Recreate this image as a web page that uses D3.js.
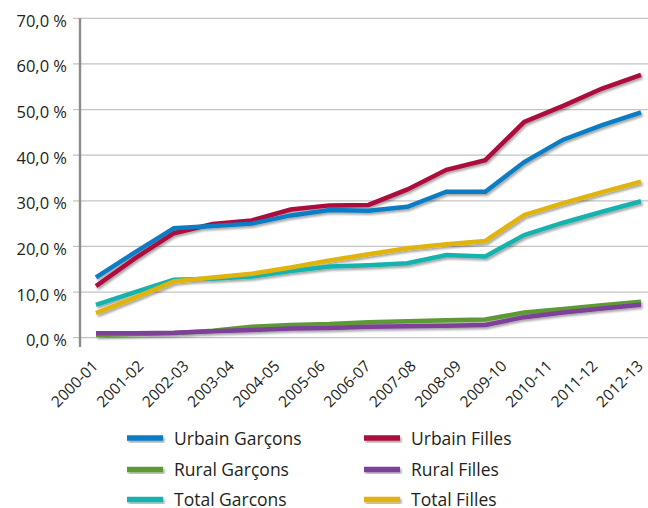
<!DOCTYPE html>
<html>
<head>
<meta charset="utf-8">
<script src="https://cdn.jsdelivr.net/npm/d3@7"></script>
<style>
  html, body { margin: 0; padding: 0; background: #fff; }
  svg { display: block; font-family: "Open Sans", "Noto Sans", sans-serif; }
</style>
</head>
<body>
<svg id="chart" width="648" height="508"></svg>
<script>
// School years shown on the category axis
const periods = ["2000-01","2001-02","2002-03","2003-04","2004-05","2005-06","2006-07",
                 "2007-08","2008-09","2009-10","2010-11","2011-12","2012-13"];

// Rates (%) for each series, one value per plotted step
const urbainGarcons = [13.2, 18.7, 24.0, 24.5, 25.0, 26.8, 28.0, 27.8, 28.7, 32.0, 32.0, 38.5, 43.4, 46.6, 49.4];
const urbainFilles  = [11.3, 17.4, 22.9, 24.9, 25.7, 28.1, 29.0, 29.1, 32.5, 36.8, 38.9, 47.3, 50.8, 54.6, 57.6];
const ruralGarcons  = [0.6, 0.8, 1.0, 1.5, 2.4, 2.8, 3.0, 3.4, 3.6, 3.8, 4.0, 5.5, 6.3, 7.1, 7.9];
const ruralFilles   = [1.0, 1.0, 1.1, 1.4, 1.7, 2.0, 2.1, 2.4, 2.5, 2.6, 2.8, 4.5, 5.5, 6.4, 7.2];
const totalGarcons  = [7.2, 10.0, 12.7, 12.9, 13.4, 14.6, 15.6, 15.9, 16.3, 18.1, 17.8, 22.5, 25.2, 27.6, 29.9];
const totalFilles   = [5.4, 8.8, 12.3, 13.2, 14.0, 15.4, 16.9, 18.3, 19.6, 20.5, 21.2, 26.9, 29.5, 31.9, 34.2];

const yTicks = [0, 10, 20, 30, 40, 50, 60, 70];

const series = [
  { name: "Urbain Garçons", values: urbainGarcons, color: "#0b7dc3", z: 5 },
  { name: "Urbain Filles",  values: urbainFilles,  color: "#ad0a3d", z: 4 },
  { name: "Rural Garçons",  values: ruralGarcons,  color: "#5d9a36", z: 0 },
  { name: "Rural Filles",   values: ruralFilles,   color: "#7e3f98", z: 1 },
  { name: "Total Garcons",  values: totalGarcons,  color: "#18b3ae", z: 2 },
  { name: "Total Filles",   values: totalFilles,   color: "#e1b40c", z: 3 }
];

const svg = d3.select("#chart");

// soft shadow under each line
const defs = svg.append("defs");
const f = defs.append("filter").attr("id", "shadow")
  .attr("x", "-10%").attr("y", "-30%").attr("width", "120%").attr("height", "160%");
f.append("feDropShadow").attr("dx", 1.5).attr("dy", 2).attr("stdDeviation", 1.2)
  .attr("flood-color", "#000").attr("flood-opacity", 0.35);

const plot = { left: 80, right: 648, top: 18.3, bottom: 337.7 };
const xStart = 96, xEnd = 641;

const y = d3.scaleLinear().domain([0, 70]).range([plot.bottom, plot.top]);
const xLabel = d3.scalePoint().domain(periods).range([xStart, xEnd]);
const xStep = d3.scaleLinear().domain([0, urbainGarcons.length - 1]).range([xStart, xEnd]);

// gridlines with small ticks left of the axis
svg.append("g").selectAll("line").data(yTicks).join("line")
  .attr("x1", plot.left - 7).attr("x2", plot.right)
  .attr("y1", d => y(d)).attr("y2", d => y(d))
  .attr("stroke", "#c4c4c4").attr("stroke-width", 1.3);

// y tick labels
const fmt = v => d3.format(".1f")(v).replace(".", ",") + " %";
svg.append("g").selectAll("text").data(yTicks).join("text")
  .attr("x", 67).attr("y", d => y(d) + 8.5)
  .attr("text-anchor", "end")
  .attr("font-size", 16.5).attr("fill", "#231f20")
  .text(fmt);

// vertical axis
svg.append("line")
  .attr("x1", plot.left).attr("x2", plot.left)
  .attr("y1", plot.top).attr("y2", 347)
  .attr("stroke", "#8c8c8c").attr("stroke-width", 2.4);

// category labels, rotated
svg.append("g").selectAll("text").data(periods).join("text")
  .attr("transform", d => `translate(${xLabel(d) + 3},367) rotate(-45)`)
  .attr("text-anchor", "end")
  .attr("font-size", 15.5).attr("fill", "#231f20")
  .text(d => d);

// series lines
const line = d3.line().x((d, i) => xStep(i)).y(d => y(d));
svg.append("g").attr("filter", "url(#shadow)")
  .selectAll("path").data(series.slice().sort((a, b) => a.z - b.z)).join("path")
  .attr("d", d => line(d.values))
  .attr("fill", "none")
  .attr("stroke", d => d.color)
  .attr("stroke-width", 4.5);

// legend, two columns
const legend = svg.append("g");
const colX = [127, 364], rowY = [438, 469.5, 499.5];
series.forEach((s, i) => {
  const cx = colX[i % 2], cy = rowY[Math.floor(i / 2)];
  legend.append("rect")
    .attr("x", cx).attr("y", cy - 2.75).attr("width", 36).attr("height", 5.5)
    .attr("fill", s.color)
    .attr("filter", "url(#shadow)");
  legend.append("text")
    .attr("x", cx + 47).attr("y", cy + 6.5)
    .attr("font-size", 17.5).attr("fill", "#231f20")
    .text(s.name);
});
</script>
</body>
</html>
